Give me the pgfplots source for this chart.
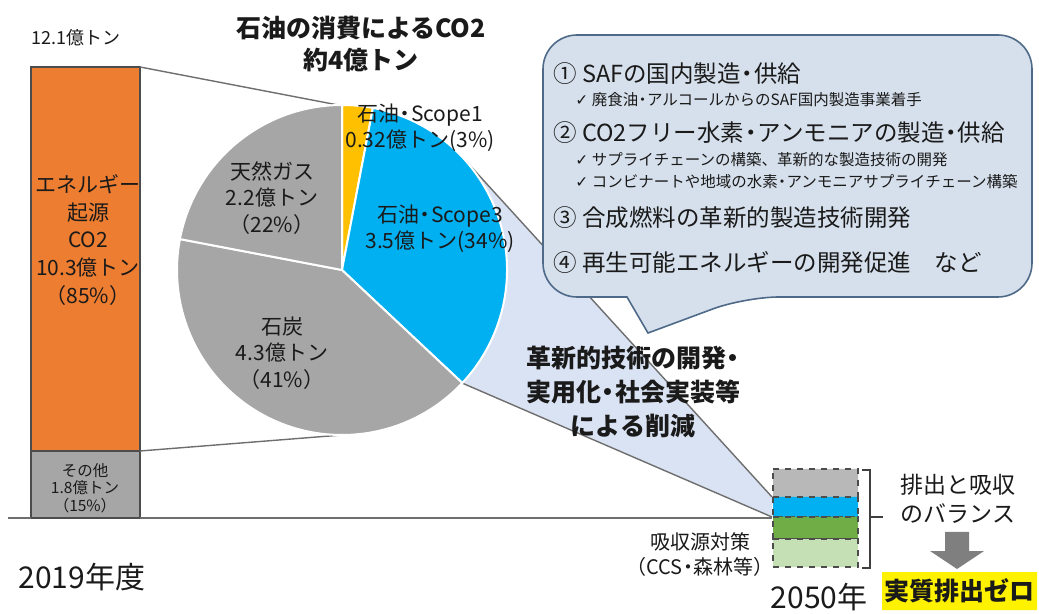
\documentclass[border=0pt]{standalone}
\usepackage{pgfplots}
\pgfplotsset{compat=1.18}
\usepackage{fontspec}
\setmainfont{Noto Sans CJK JP}
\newfontfamily\dvs{DejaVu Sans}
\definecolor{barOrange}{HTML}{ED7D31}
\definecolor{barGray}{HTML}{A6A6A6}
\definecolor{pieGray}{HTML}{A6A6A6}
\definecolor{pieBlue}{HTML}{00B0F0}
\definecolor{pieYellow}{HTML}{FFC000}
\definecolor{trapFill}{HTML}{DAE3F3}
\definecolor{boxFill}{HTML}{D6E0EC}
\definecolor{boxLine}{HTML}{4F6A88}
\definecolor{lineGray}{HTML}{6E6E6E}
\definecolor{smallGray}{HTML}{B8B8B8}
\definecolor{green1}{HTML}{70AD47}
\definecolor{green2}{HTML}{C5E0B4}
\definecolor{arrowGray}{HTML}{7F7F7F}
\definecolor{txt}{HTML}{1A1A1A}
\newcommand{\fs}[1]{\fontsize{#1}{1.2\dimexpr#1pt\relax}\selectfont}
\newcommand{\nd}{\kern-0.22em・\kern-0.22em}
\begin{document}
\begin{tikzpicture}
\useasboundingbox (0,0) rectangle (519.5pt,307pt);
% left stacked bar (億トン)
\begin{axis}[at={(15.5pt,48pt)}, anchor=south west, scale only axis,
  width=54.5pt, height=225.5pt, xmin=-0.5, xmax=0.5, ymin=0, ymax=12.1,
  hide axis, ybar stacked, bar width=54.5pt, clip=false]
\addplot[fill=barGray, draw=black!70, line width=0.6pt] coordinates {(0,1.8)};
\addplot[fill=barOrange, draw=black!70, line width=0.6pt] coordinates {(0,10.3)};
\end{axis}
\begin{axis}[at={(0,0)}, anchor=south west, scale only axis,
  width=519.5pt, height=307pt, xmin=0, xmax=1039, ymin=0, ymax=614,
  y dir=reverse, hide axis, clip=false]
% baseline
\addplot[lineGray, line width=0.7pt] coordinates {(8,518) (31,518)};
\addplot[lineGray, line width=0.7pt] coordinates {(140,518) (772,518)};
% connector lines bar -> pie
\addplot[lineGray, line width=0.7pt] coordinates {(140,67) (338,105)};
\addplot[lineGray, line width=0.7pt] coordinates {(140,451) (342,435)};
% light blue reduction wedge
\fill[trapFill] (axis cs:772,497) -- (axis cs:{342+165*cos(43)},{270-165*sin(43)})
  arc[start angle=43, end angle={90-3.6*37}, radius=82.5pt] -- (axis cs:772,517) -- cycle;
\addplot[lineGray, line width=0.7pt] coordinates {(462.7,157.5) (772,497)};
\addplot[lineGray, line width=0.7pt] coordinates {(462,383) (772,517)};
% pie: 3, 34, 41, 22 percent, clockwise from top
\fill[pieYellow, draw=white, line width=1pt] (axis cs:342,270) -- (axis cs:{342+165*cos(90)},{270-165*sin(90)})
  arc[start angle=90, end angle={90-3.6*3}, radius=82.5pt] -- cycle;
\fill[pieBlue, draw=white, line width=1pt] (axis cs:342,270) -- (axis cs:{342+165*cos(90-3.6*3)},{270-165*sin(90-3.6*3)})
  arc[start angle={90-3.6*3}, end angle={90-3.6*(3+34)}, radius=82.5pt] -- cycle;
\fill[pieGray, draw=white, line width=1pt] (axis cs:342,270) -- (axis cs:{342+165*cos(90-3.6*37)},{270-165*sin(90-3.6*37)})
  arc[start angle={90-3.6*37}, end angle={90-3.6*(37+41)}, radius=82.5pt] -- cycle;
\fill[pieGray, draw=white, line width=1pt] (axis cs:342,270) -- (axis cs:{342+165*cos(90-3.6*78)},{270-165*sin(90-3.6*78)})
  arc[start angle={90-3.6*78}, end angle={90-3.6*(78+22)}, radius=82.5pt] -- cycle;
% callout box
\filldraw[fill=boxFill, draw=boxLine, line width=0.8pt]
  (axis cs:543,160) [rounded corners=17pt] -- (axis cs:543,35) -- (axis cs:1032,35) -- (axis cs:1032,297)
  -- (axis cs:745,297) [sharp corners] -- (axis cs:648,333) -- (axis cs:627,297)
  [rounded corners=17pt] -- (axis cs:543,297) [sharp corners] -- cycle;
% 2050 small stacked bar
\addplot[fill=smallGray, draw=black!70, dashed, line width=0.6pt] coordinates {(773,469) (858,469) (858,497) (773,497) (773,469)};
\addplot[fill=pieBlue, draw=black!70, dashed, line width=0.6pt] coordinates {(773,497) (858,497) (858,517) (773,517) (773,497)};
\addplot[fill=green1, draw=black!70, dashed, line width=0.6pt] coordinates {(773,517) (858,517) (858,539) (773,539) (773,517)};
\addplot[fill=green2, draw=black!70, dashed, line width=0.6pt] coordinates {(773,539) (858,539) (858,567) (773,567) (773,539)};
% bracket
\addplot[black!75, line width=0.8pt] coordinates {(862,470) (870,470) (870,568) (862,568)};
\addplot[black!75, line width=0.8pt] coordinates {(870,517) (883,517)};
% arrow
\addplot[fill=arrowGray, draw=none] coordinates {(945,532) (969,532) (969,551) (984,551) (957,569) (930,551) (945,551) (945,532)};
% yellow box
\addplot[fill=yellow, draw=none] coordinates {(882,572) (1037,572) (1037,610) (882,610) (882,572)};
% ---------- texts ----------
\node[txt, font=\fs{9}] at (axis cs:76,38) {12.1億トン};
\node[txt, font=\fs{15}] at (axis cs:82,577) {2019年度};
\node[txt, font=\fs{15}] at (axis cs:819,597) {2050年};
\node[txt, font=\bfseries\fs{12.5}, align=center] at (axis cs:361,44) {石油の消費によるCO2\\[1pt]約4億トン};
\node[txt, font=\fs{10.5}, align=center, inner sep=0pt] at (axis cs:88,240) {エネルギー\\[1.2pt]起源\\[1.2pt]CO2\\[1.2pt]10.3億トン\\[1.2pt]（85\%）};
\node[txt, font=\fs{7.75}, align=center, inner sep=0pt] at (axis cs:85,488) {その他\\[-0.5pt]1.8億トン\\[-0.5pt]（15\%）};
\node[txt, font=\fs{10.5}, align=center, inner sep=0pt] at (axis cs:272,198) {天然ガス\\[0.5pt]2.2億トン\\[0.5pt]（22\%）};
\node[txt, font=\fs{10.5}, align=center, inner sep=0pt] at (axis cs:282,353) {石炭\\[0.5pt]4.3億トン\\[0.5pt]（41\%）};
\node[txt, font=\fs{10.5}, align=center, inner sep=0pt] at (axis cs:420,128) {石油\nd Scope1\\[0.5pt]0.32億トン(3\%)};
\node[txt, font=\fs{10.5}, align=center, inner sep=0pt] at (axis cs:440,229) {石油\nd Scope3\\[0.5pt]3.5億トン(34\%)};
% callout text
\node[txt, font=\fs{11.75}, anchor=west, inner sep=0pt] at (axis cs:553,74) {① SAFの国内製造\nd 供給};
\node[txt, font=\fs{7.75}, anchor=west, inner sep=0pt] at (axis cs:575,100) {{\dvs ✓} 廃食油\nd アルコールからのSAF国内製造事業着手};
\node[txt, font=\fs{11.75}, anchor=west, inner sep=0pt] at (axis cs:553,133) {② CO2フリー水素\nd アンモニアの製造\nd 供給};
\node[txt, font=\fs{7.75}, anchor=west, inner sep=0pt] at (axis cs:575,160) {{\dvs ✓} サプライチェーンの構築、革新的な製造技術の開発};
\node[txt, font=\fs{7.75}, anchor=west, inner sep=0pt] at (axis cs:575,182) {{\dvs ✓} コンビナートや地域の水素\nd アンモニアサプライチェーン構築};
\node[txt, font=\fs{11.75}, anchor=west, inner sep=0pt] at (axis cs:553,218) {③ 合成燃料の革新的製造技術開発};
\node[txt, font=\fs{11.75}, anchor=west, inner sep=0pt] at (axis cs:553,263) {④ 再生可能エネルギーの開発促進\hspace{1em}など};
% reduction text
\node[txt, font=\bfseries\fs{12.5}, align=center, inner sep=0pt] at (axis cs:633,392) {革新的技術の開発\nd\\[2pt]実用化\nd 社会実装等\\[2pt]による削減};
% 2050 side texts
\node[txt, font=\fs{10}, align=center, inner sep=0pt] at (axis cs:700,555) {吸収源対策\\[0.5pt]（CCS\nd 森林等）};
\node[txt, font=\fs{11.5}, align=center, inner sep=0pt] at (axis cs:958,499) {排出と吸収\\[1pt]のバランス};
\node[txt, font=\bfseries\fs{12.5}, inner sep=0pt] at (axis cs:959,591) {実質排出ゼロ};
\end{axis}
\end{tikzpicture}
\end{document}
